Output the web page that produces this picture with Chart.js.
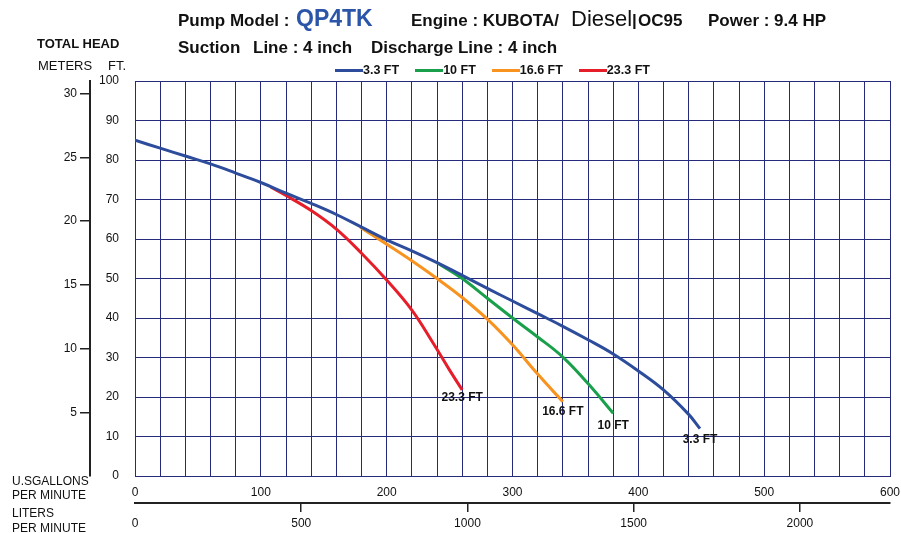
<!DOCTYPE html>
<html>
<head>
<meta charset="utf-8">
<title>QP4TK Pump Curve</title>
<script src="https://cdn.jsdelivr.net/npm/chart.js@4/dist/chart.umd.min.js"></script>
<style>
  body { margin: 0; background: #fff; }
  #wrap { position: relative; width: 901px; height: 533px; font-family: "Liberation Sans", Arial, sans-serif; color: #111; }
  #wrap canvas { position: absolute; left: 0; top: 0; }
  .t { position: absolute; white-space: pre; line-height: 1; }
  .h { font-size: 17px; font-weight: bold; }
  .side { font-size: 12px; }
  #legend { position: absolute; left: 335px; top: 64px; display: flex; align-items: center; font-size: 12.5px; font-weight: bold; line-height: 1; }
  #legend .item { display: flex; align-items: center; margin-right: 16px; }
  #legend .swatch { display: inline-block; width: 28px; height: 3px; }
</style>
</head>
<body>
<div id="wrap">
  <canvas id="pumpChart" width="901" height="533"></canvas>

  <span class="t h" style="left:178px; top:11.6px">Pump Model :</span>
  <span class="t" style="left:296px; top:6.5px; font-size:23px; font-weight:bold; color:#2b55a8">QP4TK</span>
  <span class="t h" style="left:411px; top:11.6px">Engine : KUBOTA/</span>
  <span class="t" style="left:571px; top:8.4px; font-size:22px">Diesel</span>
  <span class="t h" style="left:632px; top:11.6px">|</span>
  <span class="t h" style="left:638px; top:11.6px">OC95</span>
  <span class="t h" style="left:708px; top:11.6px">Power : 9.4 HP</span>

  <span class="t h" style="left:178px; top:38.6px">Suction</span>
  <span class="t h" style="left:253px; top:38.6px">Line : 4 inch</span>
  <span class="t h" style="left:371px; top:38.6px">Discharge Line : 4 inch</span>

  <span class="t" style="left:37px; top:37px; font-size:13px; font-weight:bold">TOTAL HEAD</span>
  <span class="t" style="left:38px; top:59px; font-size:13px">METERS</span>
  <span class="t" style="left:108px; top:59px; font-size:13px">FT.</span>

  <span class="t side" style="left:12px; top:474.8px">U.SGALLONS</span>
  <span class="t side" style="left:12px; top:488.8px">PER MINUTE</span>
  <span class="t side" style="left:12px; top:506.8px">LITERS</span>
  <span class="t side" style="left:12px; top:521.8px">PER MINUTE</span>

  <div id="legend"></div>
</div>

<script>
// ---------- Data ----------
const seriesNames = ["3.3 FT", "10 FT", "16.6 FT", "23.3 FT"];
const seriesColors = ["#2d4c9c", "#1aa04a", "#f7931e", "#e61e2a"];

// flow in US gallons per minute, head in feet
const gpm33 = [0, 20, 40, 60, 80, 100, 120, 140, 160, 180, 200, 220, 240, 260, 280, 300, 320, 340, 360, 380, 400, 420, 440, 449];
const head33 = [85, 83, 81, 79, 76.7, 74.3, 71.6, 69, 66.2, 63, 59.8, 57, 54, 50.8, 47.5, 44.3, 41.1, 37.9, 34.5, 30.9, 26.6, 21.8, 15.6, 12];

const gpm10 = [240, 260, 280, 300, 320, 340, 360, 380];
const head10 = [54, 50, 45, 40, 35.2, 30.1, 23.4, 15.9];

const gpm166 = [179, 200, 220, 240, 260, 280, 300, 320, 340];
const head166 = [63, 58.7, 54.5, 50, 45.2, 39.7, 33.2, 25.8, 18.8];

const gpm233 = [108, 120, 140, 160, 180, 200, 220, 237, 250, 260];
const head233 = [73.1, 71, 67.2, 62.5, 56.4, 49.6, 42, 33.6, 26.8, 21.8];

const gpmTicks = [0, 100, 200, 300, 400, 500, 600];
const lpmTicks = [0, 500, 1000, 1500, 2000];
const meterTicks = [5, 10, 15, 20, 25, 30];

const flows = [gpm33, gpm10, gpm166, gpm233];
const heads = [head33, head10, head166, head233];

// distance of each end label below the curve end (px)
const endLabelDy = [11, 12, 10, 8];

const gridColor = "#262a7a";

// ---------- Legend (html) ----------
const legendEl = document.getElementById("legend");
seriesNames.forEach((name, i) => {
  legendEl.insertAdjacentHTML('beforeend',
    `<span class="item"><span class="swatch" style="background:${seriesColors[i]}"></span>${name}</span>`);
});

// ---------- End-of-curve labels ----------
const endLabels = {
  id: 'endLabels',
  afterDatasetsDraw(chart) {
    const ctx = chart.ctx;
    ctx.save();
    ctx.font = "bold 12px 'Liberation Sans', Arial, sans-serif";
    ctx.fillStyle = "#111";
    ctx.textAlign = "center";
    ctx.textBaseline = "middle";
    chart.data.datasets.forEach((ds, i) => {
      const pts = chart.getDatasetMeta(i).data;
      const last = pts[pts.length - 1];
      ctx.fillText(ds.label, last.x, last.y + endLabelDy[i]);
    });
    ctx.restore();
  }
};

// ---------- Chart ----------
const datasets = seriesNames.map((name, i) => ({
  label: name,
  data: flows[i].map((x, j) => ({ x: x, y: heads[i][j] })),
  borderColor: seriesColors[i],
  backgroundColor: seriesColors[i],
  borderWidth: 3,
  pointRadius: 0,
  tension: 0.4,
  fill: false
}));

const tickFont = { family: "'Liberation Sans', Arial, sans-serif", size: 12 };
const setTicks = (list) => (s) => { s.ticks = list.map(v => ({ value: v })); };
// fixed axis size, no extra side padding for edge labels
const fixHeight = (h) => (s) => { s.height = h; s.paddingLeft = 0; s.paddingRight = 0; };

new Chart(document.getElementById('pumpChart'), {
  type: 'line',
  data: { datasets },
  options: {
    responsive: false,
    animation: false,
    layout: { padding: { top: 81, right: 11, bottom: 0, left: 0 } },
    plugins: {
      legend: { display: false },
      tooltip: { enabled: false }
    },
    scales: {
      x: {
        type: 'linear',
        min: 0, max: 600,
        weight: 0,
        afterFit: fixHeight(27),
        grid: { color: gridColor, lineWidth: 1, drawTicks: false },
        border: { color: gridColor, width: 1 },
        ticks: {
          stepSize: 20, autoSkip: false, maxRotation: 0, padding: 9,
          color: "#111", font: tickFont,
          callback: (v) => gpmTicks.includes(v) ? String(v) : ''
        }
      },
      x2: {
        type: 'linear',
        position: 'bottom',
        min: 0, max: 2271,
        weight: 1,
        afterBuildTicks: setTicks(lpmTicks),
        afterFit: fixHeight(30),
        grid: {
          drawOnChartArea: false, tickLength: 9, lineWidth: 1.5,
          color: (c) => c.tick && c.tick.value === 0 ? 'rgba(0,0,0,0)' : '#222'
        },
        border: { color: '#222', width: 2 },
        ticks: {
          autoSkip: false, maxRotation: 0, padding: 4,
          color: "#111", font: tickFont,
          callback: (v) => String(v)
        }
      },
      y: {
        type: 'linear',
        position: 'left',
        min: 0, max: 100,
        weight: 0,
        afterFit: (s) => { s.width = 45; },
        grid: { color: gridColor, lineWidth: 1, drawTicks: false },
        border: { color: gridColor, width: 1 },
        ticks: { stepSize: 10, padding: 16, color: "#111", font: tickFont }
      },
      y2: {
        type: 'linear',
        position: 'left',
        min: 0, max: 31,
        weight: 1,
        afterBuildTicks: setTicks(meterTicks),
        afterFit: (s) => { s.width = 90; },
        grid: { drawOnChartArea: false, tickLength: 10, lineWidth: 1.5, color: '#222' },
        border: { color: '#222', width: 2 },
        ticks: { padding: 3, color: "#111", font: tickFont }
      }
    }
  },
  plugins: [endLabels]
});
</script>
</body>
</html>
